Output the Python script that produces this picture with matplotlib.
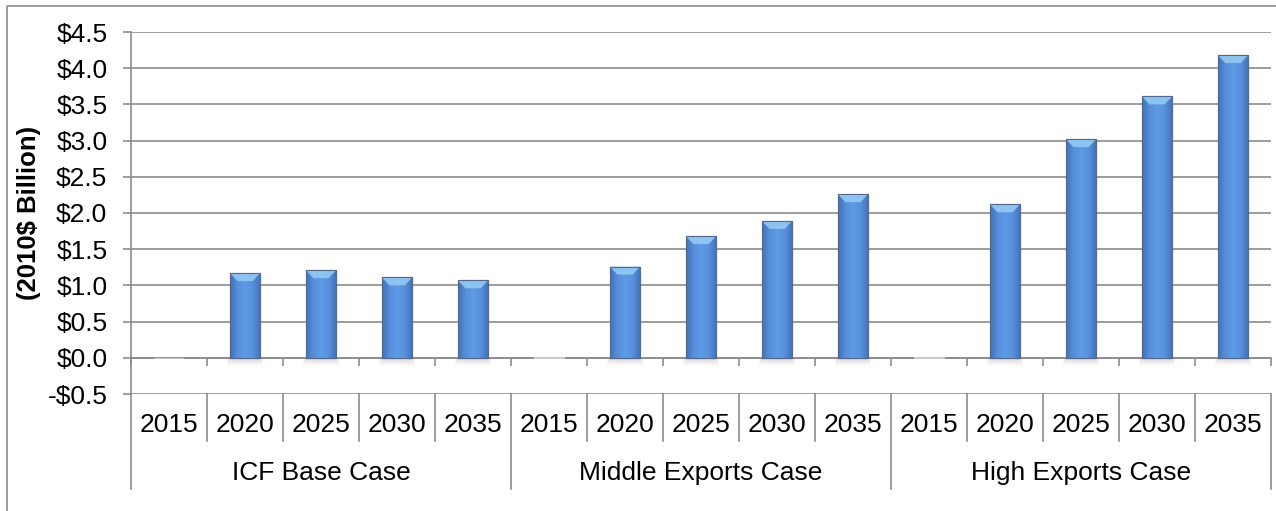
"""Projected LNG export value by case, 2015-2035 (2010$ billion)."""

import numpy as np
import matplotlib

matplotlib.use("Agg")
import matplotlib.pyplot as plt
from matplotlib.colors import LinearSegmentedColormap
from matplotlib.lines import Line2D
from matplotlib.patches import Polygon

plt.rcParams["font.family"] = ["Liberation Sans", "DejaVu Sans"]

groups = ["ICF Base Case", "Middle Exports Case", "High Exports Case"]
years = ["2015", "2020", "2025", "2030", "2035"]
icf_base = [0.003, 1.17, 1.21, 1.11, 1.07]
middle_exports = [0.01, 1.26, 1.68, 1.89, 2.26]
high_exports = [0.01, 2.12, 3.02, 3.61, 4.18]
y_ticks = [-0.5, 0.0, 0.5, 1.0, 1.5, 2.0, 2.5, 3.0, 3.5, 4.0, 4.5]
y_label = "(2010$ Billion)"

GRID = "#8c8c8c"
FS = 19
BAR_W = 0.4

values = icf_base + middle_exports + high_exports
n_years = len(years)
x = np.arange(len(values))

fig = plt.figure(figsize=(12.76, 5.11), dpi=100)
ax = fig.add_axes([131 / 1276, 1 - 394 / 511, 1140 / 1276, 362 / 511])

# bar body gradient: darker edges, lighter middle
grad = LinearSegmentedColormap.from_list(
    "bar", ["#4172b8", "#5690dc", "#5f9ae4", "#5690dc", "#4172b8"]
)
row = np.linspace(0, 1, 64)[None, :]

bars = ax.bar(x, values, width=BAR_W, color="#5a94df", edgecolor="#56698a",
              linewidth=0.8, zorder=3)
for xi, v, b in zip(x, values, bars):
    if v < 0.05:
        b.set_facecolor("#c5ccd6")
        b.set_edgecolor("#c5ccd6")
        continue
    # soft shadow under the bar
    for k in range(4):
        ax.bar(xi, -0.025 * (k + 1), width=BAR_W * (1 + 0.06 * k),
               color="#7f7f7f", alpha=0.07, linewidth=0, zorder=2)
    im = ax.imshow(row, cmap=grad, aspect="auto", zorder=3.5,
                   extent=(xi - BAR_W / 2, xi + BAR_W / 2, 0, v))
    im.set_clip_path(b)
    # bevelled top
    d = 0.11
    ax.add_patch(Polygon([(xi - BAR_W / 2, v), (xi + BAR_W / 2, v),
                          (xi + BAR_W / 4, v - d), (xi - BAR_W / 4, v - d)],
                         closed=True, facecolor="#94c9f4", edgecolor="none",
                         alpha=0.9, zorder=4))
    ax.add_patch(plt.Rectangle((xi - BAR_W / 2, 0), BAR_W, v, fill=False,
                               edgecolor="#56698a", linewidth=0.8, zorder=4.5))

ax.set_xlim(-0.5, len(values) - 0.5)
ax.set_ylim(y_ticks[0], y_ticks[-1])
ax.set_yticks(y_ticks)
ax.set_yticklabels([f"-${abs(t):.1f}" if t < 0 else f"${t:.1f}" for t in y_ticks],
                   fontsize=FS)
ax.yaxis.grid(True, color=GRID, linewidth=1.2, zorder=0)
ax.set_axisbelow(True)

ax.set_xticks(np.arange(-0.5, len(values), 1.0))
ax.set_xticklabels([])
ax.tick_params(axis="x", direction="out", length=5.5, width=1.2, color=GRID)
ax.tick_params(axis="y", direction="out", length=6, width=1.2, color=GRID, pad=11)

for s in ["top", "right"]:
    ax.spines[s].set_visible(False)
ax.spines["bottom"].set_position(("data", 0))
ax.spines["bottom"].set_color(GRID)
ax.spines["bottom"].set_linewidth(1.2)
ax.spines["left"].set_color(GRID)
ax.spines["left"].set_linewidth(1.2)
ax.spines["left"].set_bounds(y_ticks[0], y_ticks[-1])

fig.text(29 / 1276, 1 - 213 / 511, y_label, rotation=90, fontsize=FS - 0.5,
         fontweight="bold", ha="center", va="center")

# two-level category axis below the plot
trans = ax.get_xaxis_transform()
y_year, y_group = -0.0856, -0.218
y_sep1, y_sep2 = -0.130, -0.262
for i, xi in enumerate(x):
    ax.text(xi, y_year, years[i % n_years], transform=trans, fontsize=FS,
            ha="center", va="center")
for b in np.arange(-0.5, len(values), 1.0):
    is_group = int(round(b + 0.5)) % n_years == 0
    ax.add_line(Line2D([b, b], [0, y_sep2 if is_group else y_sep1],
                       transform=trans, color=GRID, linewidth=1.2, clip_on=False))
for g, name in enumerate(groups):
    cx = g * n_years + (n_years - 1) / 2
    ax.text(cx, y_group, name, transform=trans, fontsize=FS,
            ha="center", va="center")

# chart frame (runs off the right and bottom edge)
fig.add_artist(Line2D([7 / 1276, 7 / 1276, 1.0], [0.0, 1 - 6 / 511, 1 - 6 / 511],
                      transform=fig.transFigure, color="#8c8c8c", linewidth=1.2))

fig.savefig("out.png", dpi=100)
